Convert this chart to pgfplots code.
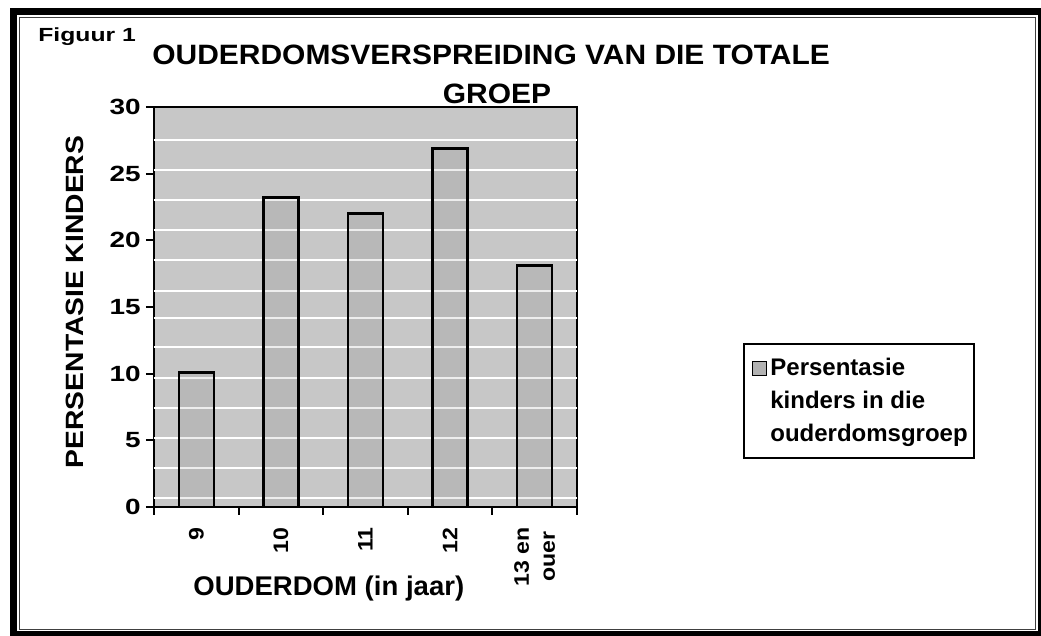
\documentclass[border=0pt]{standalone}
\usepackage{pgfplots}
\pgfplotsset{compat=1.18}
\usepackage{fontspec}
\setmainfont{Liberation Sans}
\newcommand\tx[3]{{\fontsize{#1}{#1}\selectfont\bfseries\scalebox{#2}[1]{#3}}}
\begin{document}
\begin{tikzpicture}
\useasboundingbox (0pt,0pt) rectangle (520.5pt,318pt);
\fill[white] (0pt,0pt) rectangle (520.5pt,318pt);
\draw[line width=3.25pt] (6.75pt,312.25pt) rectangle (520.5pt,0.75pt);
\draw[line width=0.75pt, black!75] (9.75pt,309.25pt) rectangle (517.75pt,3.25pt);
\begin{axis}[at={(77pt,64.5pt)}, anchor=south west, scale only axis,
  width=211.5pt, height=200pt,
  xmin=-0.5, xmax=4.5, ymin=0, ymax=30,
  xtick={-0.5,0.5,1.5,2.5,3.5,4.5}, xticklabels={},
  ytick={0,5,10,15,20,25,30},
  yticklabels={\tx{11}{1.27}{0},\tx{11}{1.27}{5},\tx{11}{1.27}{10},\tx{11}{1.27}{15},\tx{11}{1.27}{20},\tx{11}{1.27}{25},\tx{11}{1.27}{30}},
  yticklabel style={inner sep=0pt, anchor=east, xshift=-2.5pt},
  tick align=outside, major tick length=4pt, xtick pos=bottom, ytick pos=left,
  tick style={black, line width=1pt},
  axis line style={black, line width=1.2pt},
  axis background/.style={fill=black!22},
  extra y ticks={0.7,2.9,5.2,7.4,9.7,12.0,14.2,16.2,18.5,20.75,23.0,25.3,27.5},
  extra y tick labels={},
  extra y tick style={ymajorgrids=true, major tick length=0pt, major grid style={white, line width=1pt}},
  clip=false,
  legend style={at={(1.392,0.41)}, anchor=north west, draw=black, line width=1pt,
    fill=white, inner xsep=1pt, inner ysep=5pt,
    cells={align=left, anchor=west, inner xsep=1pt},
    font=\fontsize{12}{16.5}\selectfont\bfseries},
  legend image code/.code={\path (0pt,13pt); \draw[fill=black!30, fill opacity=1, draw=black, line width=0.4pt] (2.5pt,13pt) rectangle (9.5pt,20pt);},
]
\addplot[ybar, bar width=17.5pt, fill=black, fill opacity=0.07, draw=black, draw opacity=1, line width=1.2pt]
  coordinates {(0,10.1) (1,23.2) (2,22.0) (3,26.9) (4,18.1)};
\addlegendentry{Persentasie\\kinders in die\\ouderdomsgroep}
\node[yshift=-10pt, rotate=90, anchor=east, inner sep=0pt] at (axis cs:0,0) {\tx{10.5}{1.1}{9}};
\node[yshift=-10pt, rotate=90, anchor=east, inner sep=0pt] at (axis cs:1,0) {\tx{10.5}{1.1}{10}};
\node[yshift=-10pt, rotate=90, anchor=east, inner sep=0pt] at (axis cs:2,0) {\tx{10.5}{1.1}{11}};
\node[yshift=-10pt, rotate=90, anchor=east, inner sep=0pt] at (axis cs:3,0) {\tx{10.5}{1.1}{12}};
\node[yshift=-10pt, rotate=90, anchor=east, inner sep=0pt, align=center,
  font=\fontsize{10.5}{13}\selectfont\bfseries] at (axis cs:4,0) {\scalebox{1.1}[1]{13 en}\\\scalebox{1.1}[1]{ouer}};
\end{axis}
\node[anchor=base west, inner sep=0pt] at (19pt,297pt) {\tx{9.5}{1.3}{Figuur 1}};
\node[anchor=base west, inner sep=0pt] at (76pt,285.5pt) {\tx{14}{1.07}{OUDERDOMSVERSPREIDING VAN DIE TOTALE}};
\node[anchor=base, inner sep=0pt] at (248.5pt,266pt) {\tx{14}{1.07}{GROEP}};
\node[anchor=base, inner sep=0pt, rotate=90] at (41.5pt,167pt) {\tx{12.5}{1.13}{PERSENTASIE KINDERS}};
\node[anchor=base west, inner sep=0pt] at (96.5pt,20pt) {\tx{13.5}{1.02}{OUDERDOM (in jaar)}};
\end{tikzpicture}
\end{document}
